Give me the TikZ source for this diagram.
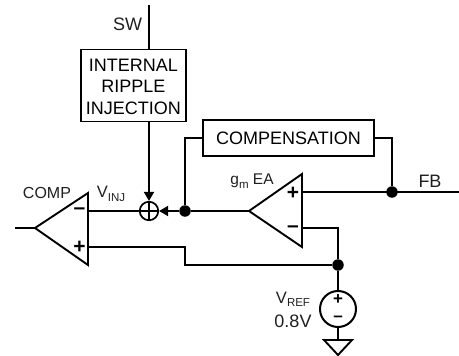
\documentclass[tikz,border=0pt]{standalone}
\usepackage{fontspec}
\setmainfont{Liberation Sans}
\usetikzlibrary{arrows.meta}
\tikzset{
  wire/.style={line width=1.9pt,line cap=butt,line join=miter},
  boxn/.style={draw,line width=1.9pt,inner sep=0pt,align=center,font=\fontsize{18}{21.7}\selectfont},
  dotn/.style={circle,fill=black,inner sep=0pt,minimum size=11.5pt},
  lab/.style={inner sep=0pt,font=\fontsize{18}{20}\selectfont,text=black!88},
  sumn/.style={circle,draw,line width=1.7pt,minimum size=18.5pt,inner sep=0pt},
  srcn/.style={circle,draw,line width=2pt,minimum size=36pt,inner sep=0pt},
  sym/.style={inner sep=0pt,font=\fontsize{21}{21}\selectfont\bfseries},
  ssym/.style={inner sep=0pt,font=\fontsize{17}{17}\selectfont\bfseries},
  tip/.style={-{Triangle[length=9pt,width=10pt]}}
}
\newcommand{\sbs}[1]{\raisebox{-0.22em}{\fontsize{11.5}{12}\selectfont #1}}
\begin{document}
\begin{tikzpicture}[x=1pt,y=-1pt]
\useasboundingbox (0,0) rectangle (459,356);
% nodes
\node[boxn,minimum width=105pt,minimum height=72pt] (inj) at (133.3,85.5) {\rule{0pt}{15pt}INTERNAL\\RIPPLE\\INJECTION};
\node[boxn,minimum width=171pt,minimum height=36pt] (cmpn) at (288.5,138) {COMPENSATION};
\node[sumn] (sum) at (149,211) {};
\node[dotn] (d1) at (185,211) {};
\node[dotn] (d2) at (392,192) {};
\node[dotn] (d3) at (338,265) {};
\node[srcn] (src) at (338,309) {};
\coordinate (swtop) at (149,5);
\coordinate (fbend) at (459,192);
\coordinate (out) at (15,228);
% comparator
\coordinate (ca) at (35,228);
\coordinate (ct) at (88,193);
\coordinate (cb) at (88,265);
\coordinate (cm) at (88,211);
\coordinate (cp) at (88,247);
\draw[wire] (ca) -- (ct) -- (cb) -- cycle;
% EA
\coordinate (ea) at (249,211);
\coordinate (et) at (302,174);
\coordinate (eb) at (302,247);
\coordinate (ep) at (302,192);
\coordinate (em) at (302,228);
\draw[wire] (ea) -- (et) -- (eb) -- cycle;
% ground
\coordinate (gl) at (324,340);
\coordinate (gr) at (352,340);
\coordinate (gb) at (338,355);
\coordinate (gt) at (338,340);
\draw[wire] (gl) -- (gr) -- (gb) -- cycle;
% connectors
\draw[wire] (swtop) -- (swtop |- inj.north);
\draw[wire,tip] (swtop |- inj.south) -- (sum.north);
\draw[wire,tip] (d1) -- (sum.east);
\draw[wire] (sum.west) -- (cm);
\draw[wire] (out) -- (ca);
\draw[wire] (d1) -- (ea);
\draw[wire] (d1) |- (cmpn.west);
\draw[wire] (cmpn.east) -| (d2);
\draw[wire] (ep) -- (fbend);
\draw[wire] (em) -| (d3);
\draw[wire] (cp) -| (d1 |- d3) -- (d3);
\draw[wire] (d3) -- (src.north);
\draw[wire] (src.south) -- (gt);
% sum cross
\draw[line width=1.5pt] (sum.north) -- (sum.south) (sum.west) -- (sum.east);
% signs
\node[sym] (cminus) at (79.5,211) {\char"2013};
\node[sym] (cplus) at (79.5,247.5) {+};
\node[sym] (eplus) at (293,193) {+};
\node[sym] (eminus) at (293,229) {\char"2013};
\node[ssym] (splus) at (338,300) {+};
\node[ssym] (sminus) at (338,318.5) {\char"2013};
% labels
\node[lab,font=\fontsize{16}{20}\selectfont] (comp) at (47,193) {COMP};
\node[lab,font=\fontsize{16.5}{20}\selectfont] (vinj) at (111,194) {V\sbs{INJ}};
\node[lab] (sw) at (127.5,24) {SW};
\node[lab,font=\fontsize{15.5}{20}\selectfont] (gm) at (252,181) {g\sbs{m} EA};
\node[lab] (fb) at (430,181) {FB};
\node[lab,font=\fontsize{16.5}{20}\selectfont] (vref) at (293,299.5) {V\sbs{REF}};
\node[lab] (vv) at (293,321) {0.8V};
\end{tikzpicture}
\end{document}
